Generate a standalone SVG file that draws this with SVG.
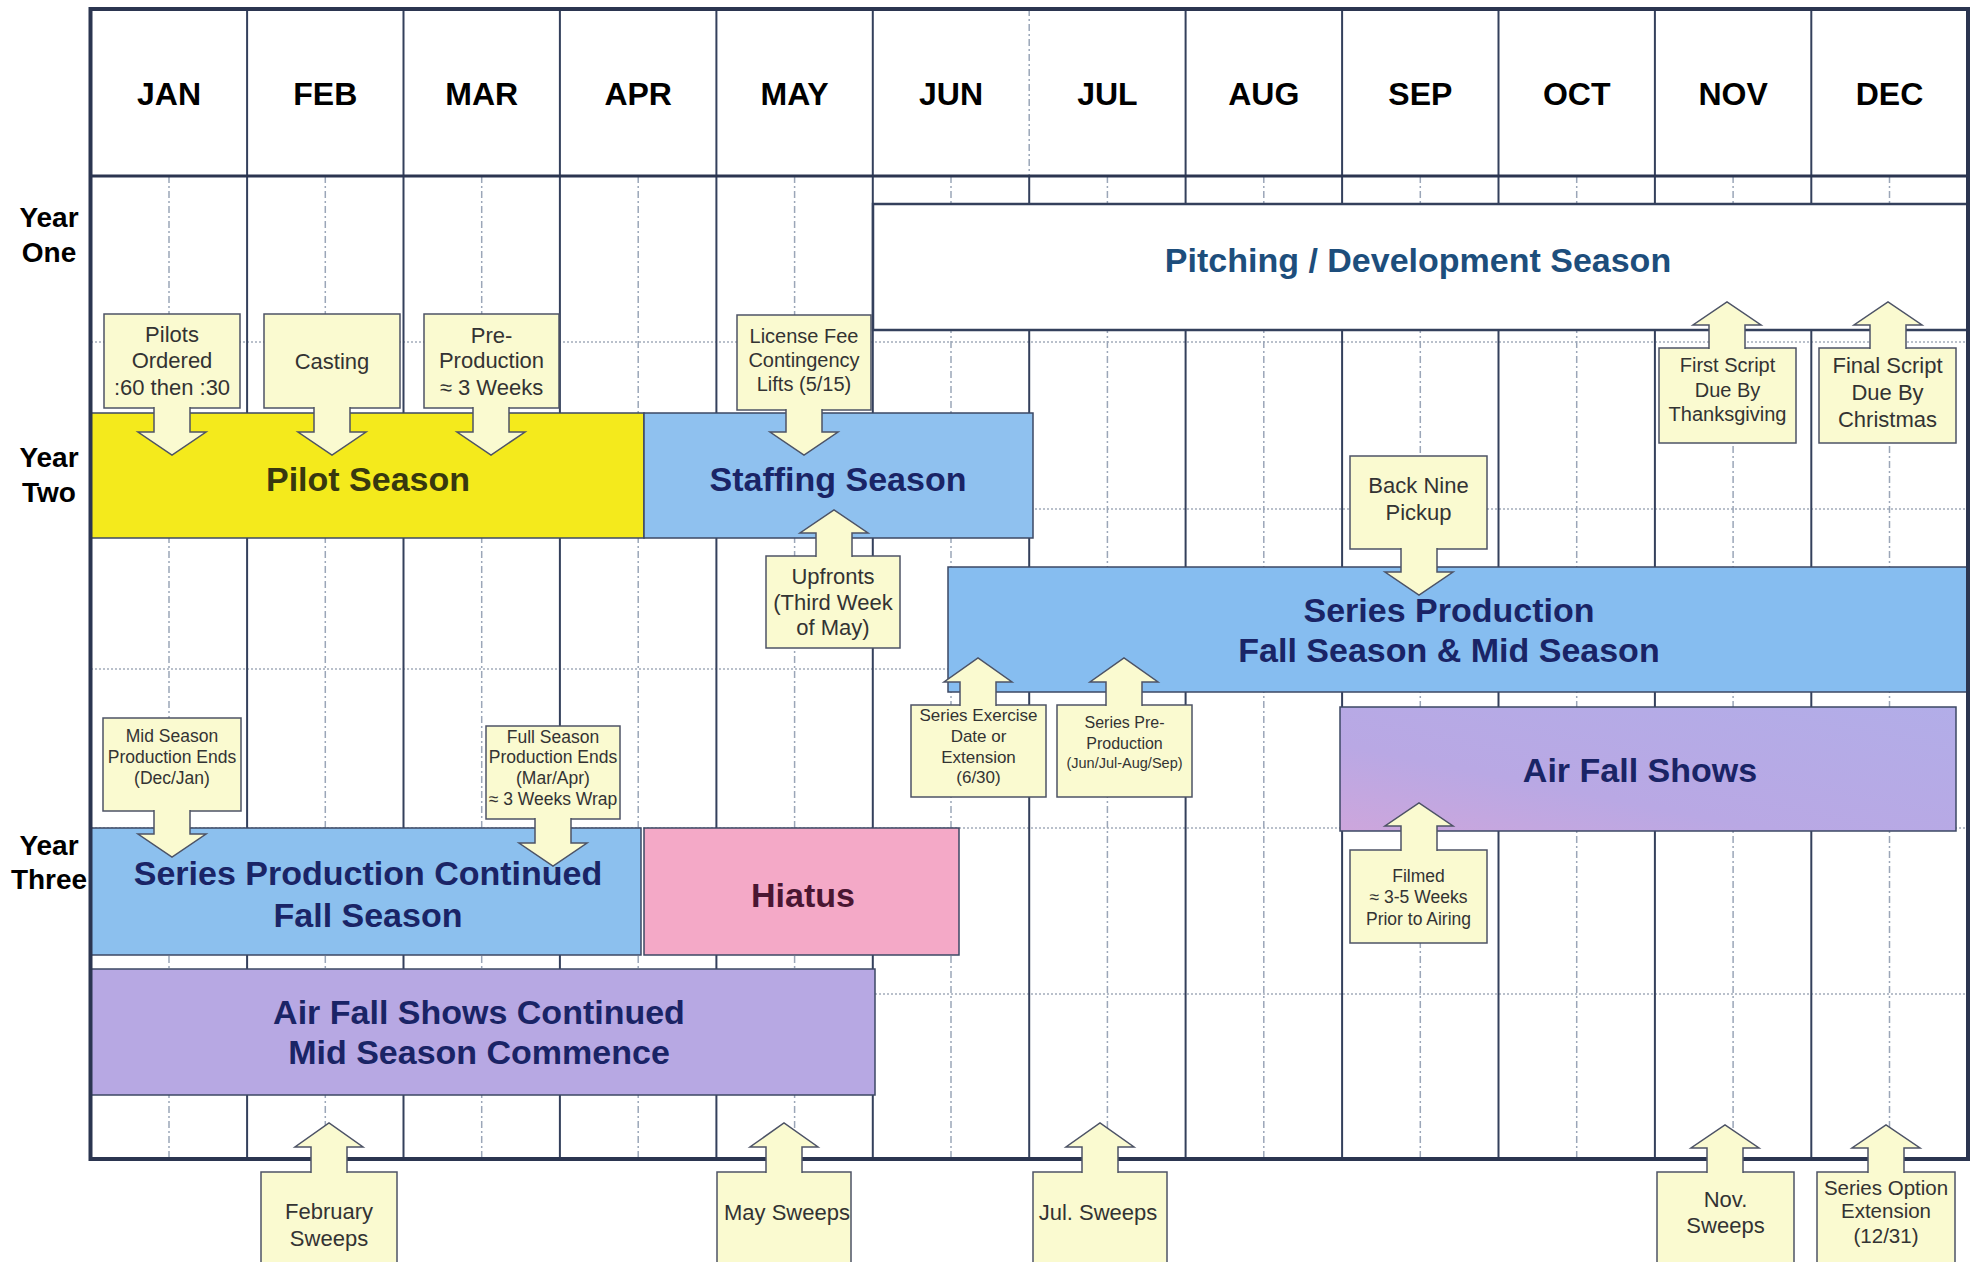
<svg xmlns="http://www.w3.org/2000/svg" width="1976" height="1262" viewBox="0 0 1976 1262">
<defs>
<linearGradient id="airGrad" x1="0" y1="1" x2="1" y2="0">
<stop offset="0" stop-color="#cda6dc"/>
<stop offset="0.35" stop-color="#b9a8e4"/>
<stop offset="1" stop-color="#b2ade8"/>
</linearGradient>
<style>
.month{font-family:"Liberation Sans",Arial,sans-serif;font-weight:bold;font-size:32px;fill:#000;text-anchor:middle}
.year{font-family:"Liberation Sans",Arial,sans-serif;font-weight:bold;font-size:28px;fill:#000;text-anchor:middle}
.bar{stroke:#3d4864;stroke-width:1.5}
.bt{font-family:"Liberation Sans",Arial,sans-serif;font-weight:bold;font-size:34px;text-anchor:middle;fill:#1a2466}
.box{fill:#fafad0;stroke:#4d5366;stroke-width:1.5}
.ct{font-family:"Liberation Sans",Arial,sans-serif;font-size:22px;text-anchor:middle;fill:#333}
.arrow{fill:#fafad0;stroke:#4d5366;stroke-width:1.5}
.solid{stroke:#34405c;stroke-width:2;fill:none}
.half{stroke:#9ba6b8;stroke-width:1.5;stroke-dasharray:7 3 2 3}
.dot{stroke:#a3acbb;stroke-width:1.5;stroke-dasharray:2 2}
</style>
</defs>
<rect x="0" y="0" width="1976" height="1262" fill="#fff"/>

<g id="grid">
<g class="dot">
<line x1="91" y1="342" x2="1968" y2="342"/>
<line x1="91" y1="509" x2="1968" y2="509"/>
<line x1="91" y1="669" x2="1968" y2="669"/>
<line x1="91" y1="828" x2="1968" y2="828"/>
<line x1="91" y1="994" x2="1968" y2="994"/>
</g>
<g class="half">
<line x1="169" y1="176" x2="169" y2="1159"/>
<line x1="325.3" y1="176" x2="325.3" y2="1159"/>
<line x1="481.7" y1="176" x2="481.7" y2="1159"/>
<line x1="638.2" y1="176" x2="638.2" y2="1159"/>
<line x1="794.6" y1="176" x2="794.6" y2="1159"/>
<line x1="951" y1="176" x2="951" y2="1159"/>
<line x1="1107.4" y1="176" x2="1107.4" y2="1159"/>
<line x1="1263.8" y1="176" x2="1263.8" y2="1159"/>
<line x1="1420.3" y1="176" x2="1420.3" y2="1159"/>
<line x1="1576.7" y1="176" x2="1576.7" y2="1159"/>
<line x1="1733.1" y1="176" x2="1733.1" y2="1159"/>
<line x1="1889.5" y1="176" x2="1889.5" y2="1159"/>
<line x1="1029.2" y1="9" x2="1029.2" y2="176"/>
</g>
<g class="solid">
<line x1="247.1" y1="9" x2="247.1" y2="1159"/>
<line x1="403.5" y1="9" x2="403.5" y2="1159"/>
<line x1="559.9" y1="9" x2="559.9" y2="1159"/>
<line x1="716.4" y1="9" x2="716.4" y2="1159"/>
<line x1="872.8" y1="9" x2="872.8" y2="1159"/>
<line x1="1029.2" y1="176" x2="1029.2" y2="1159"/>
<line x1="1185.6" y1="9" x2="1185.6" y2="1159"/>
<line x1="1342.1" y1="9" x2="1342.1" y2="1159"/>
<line x1="1498.5" y1="9" x2="1498.5" y2="1159"/>
<line x1="1654.9" y1="9" x2="1654.9" y2="1159"/>
<line x1="1811.3" y1="9" x2="1811.3" y2="1159"/>
</g>
</g>

<g id="months">
<text class="month" x="169" y="105">JAN</text>
<text class="month" x="325.3" y="105">FEB</text>
<text class="month" x="481.7" y="105">MAR</text>
<text class="month" x="638.2" y="105">APR</text>
<text class="month" x="794.6" y="105">MAY</text>
<text class="month" x="951" y="105">JUN</text>
<text class="month" x="1107.4" y="105">JUL</text>
<text class="month" x="1263.8" y="105">AUG</text>
<text class="month" x="1420.3" y="105">SEP</text>
<text class="month" x="1576.7" y="105">OCT</text>
<text class="month" x="1733.1" y="105">NOV</text>
<text class="month" x="1889.5" y="105">DEC</text>
</g>

<g id="years">
<text class="year" x="49" y="227">Year</text>
<text class="year" x="49" y="262">One</text>
<text class="year" x="49" y="467">Year</text>
<text class="year" x="49" y="502">Two</text>
<text class="year" x="49" y="855">Year</text>
<text class="year" x="49" y="889">Three</text>
</g>

<g id="bar-pitching">
<rect x="873" y="204" width="1095" height="126" fill="#fff" stroke="#34405c" stroke-width="2.5"/>
<text class="bt" x="1418" y="272" style="fill:#1d4e7c">Pitching / Development Season</text>
</g>
<g id="bar-pilot">
<rect class="bar" x="91" y="413" width="553" height="125" fill="#f4ea1c"/>
<text class="bt" x="368" y="491" style="fill:#38380f">Pilot Season</text>
</g>
<g id="bar-staffing">
<rect class="bar" x="644" y="413" width="389" height="125" fill="#8fc1ef"/>
<text class="bt" x="838" y="491">Staffing Season</text>
</g>
<g id="bar-series-production">
<rect class="bar" x="948" y="567" width="1020" height="125" fill="#86bdf0"/>
<text class="bt" x="1449" y="622">Series Production</text>
<text class="bt" x="1449" y="662">Fall Season &amp; Mid Season</text>
</g>
<g id="bar-air-fall">
<rect class="bar" x="1340" y="707" width="616" height="124" fill="url(#airGrad)"/>
<text class="bt" x="1640" y="782">Air Fall Shows</text>
</g>
<g id="bar-series-continued">
<rect class="bar" x="91" y="828" width="550" height="127" fill="#8cc0ee"/>
<text class="bt" x="368" y="885">Series Production Continued</text>
<text class="bt" x="368" y="927">Fall Season</text>
</g>
<g id="bar-hiatus">
<rect class="bar" x="644" y="828" width="315" height="127" fill="#f4a9c7"/>
<text class="bt" x="803" y="907" style="fill:#4a1632">Hiatus</text>
</g>
<g id="bar-air-fall-continued">
<rect class="bar" x="91" y="969" width="784" height="126" fill="#b7a8e3"/>
<text class="bt" x="479" y="1024">Air Fall Shows Continued</text>
<text class="bt" x="479" y="1064">Mid Season Commence</text>
</g>

<rect id="frame" x="90.5" y="9" width="1877.5" height="1150" fill="none" stroke="#2b3550" stroke-width="4"/>
<line x1="90.5" y1="176" x2="1968" y2="176" stroke="#2b3550" stroke-width="3"/>

<g id="callout-pilots">
<rect class="box" x="104" y="314" width="136" height="94"/>
<text class="ct" x="172" y="342">Pilots</text>
<text class="ct" x="172" y="368">Ordered</text>
<text class="ct" x="172" y="395">:60 then :30</text>
</g>
<g id="callout-casting">
<rect class="box" x="264" y="314" width="136" height="94"/>
<text class="ct" x="332" y="369">Casting</text>
</g>
<g id="callout-preproduction">
<rect class="box" x="424" y="314" width="135" height="94"/>
<text class="ct" x="491.5" y="343">Pre-</text>
<text class="ct" x="491.5" y="368">Production</text>
<text class="ct" x="491.5" y="395">≈ 3 Weeks</text>
</g>
<g id="callout-license">
<rect class="box" x="737" y="315" width="134" height="95"/>
<text class="ct" x="804" y="343" style="font-size:20px">License Fee</text>
<text class="ct" x="804" y="367" style="font-size:20px">Contingency</text>
<text class="ct" x="804" y="391" style="font-size:20px">Lifts (5/15)</text>
</g>
<g id="callout-midseason">
<rect class="box" x="103" y="718" width="138" height="93"/>
<text class="ct" x="172" y="742" style="font-size:17.5px">Mid Season</text>
<text class="ct" x="172" y="763" style="font-size:17.5px">Production Ends</text>
<text class="ct" x="172" y="784" style="font-size:17.5px">(Dec/Jan)</text>
</g>
<g id="callout-fullseason">
<rect class="box" x="486" y="726" width="134" height="93"/>
<text class="ct" x="553" y="743" style="font-size:17.5px">Full Season</text>
<text class="ct" x="553" y="763" style="font-size:17.5px">Production Ends</text>
<text class="ct" x="553" y="784" style="font-size:17.5px">(Mar/Apr)</text>
<text class="ct" x="553" y="805" style="font-size:17.5px">≈ 3 Weeks Wrap</text>
</g>
<g id="callout-backnine">
<rect class="box" x="1350" y="456" width="137" height="93"/>
<text class="ct" x="1418.5" y="493">Back Nine</text>
<text class="ct" x="1418.5" y="520">Pickup</text>
</g>
<g id="callout-upfronts">
<rect class="box" x="766" y="556" width="134" height="92"/>
<text class="ct" x="833" y="584">Upfronts</text>
<text class="ct" x="833" y="610">(Third Week</text>
<text class="ct" x="833" y="635">of May)</text>
</g>
<g id="callout-exercise">
<rect class="box" x="911" y="705" width="135" height="92"/>
<text class="ct" x="978.5" y="721" style="font-size:17px">Series Exercise</text>
<text class="ct" x="978.5" y="742" style="font-size:17px">Date or</text>
<text class="ct" x="978.5" y="763" style="font-size:17px">Extension</text>
<text class="ct" x="978.5" y="783" style="font-size:17px">(6/30)</text>
</g>
<g id="callout-series-preproduction">
<rect class="box" x="1057" y="705" width="135" height="92"/>
<text class="ct" x="1124.5" y="728" style="font-size:16px">Series Pre-</text>
<text class="ct" x="1124.5" y="749" style="font-size:16px">Production</text>
<text class="ct" x="1124.5" y="768" style="font-size:14.5px">(Jun/Jul-Aug/Sep)</text>
</g>
<g id="callout-filmed">
<rect class="box" x="1350" y="850" width="137" height="93"/>
<text class="ct" x="1418.5" y="882" style="font-size:17.5px">Filmed</text>
<text class="ct" x="1418.5" y="903" style="font-size:17.5px">≈ 3-5 Weeks</text>
<text class="ct" x="1418.5" y="925" style="font-size:17.5px">Prior to Airing</text>
</g>
<g id="callout-firstscript">
<rect class="box" x="1659" y="348" width="137" height="95"/>
<text class="ct" x="1727.5" y="372" style="font-size:20px">First Script</text>
<text class="ct" x="1727.5" y="397" style="font-size:20px">Due By</text>
<text class="ct" x="1727.5" y="421" style="font-size:20px">Thanksgiving</text>
</g>
<g id="callout-finalscript">
<rect class="box" x="1819" y="348" width="137" height="95"/>
<text class="ct" x="1887.5" y="373">Final Script</text>
<text class="ct" x="1887.5" y="400">Due By</text>
<text class="ct" x="1887.5" y="427">Christmas</text>
</g>
<g id="callout-february">
<rect class="box" x="261" y="1172" width="136" height="110"/>
<text class="ct" x="329" y="1219">February</text>
<text class="ct" x="329" y="1246">Sweeps</text>
</g>
<g id="callout-may">
<rect class="box" x="717" y="1172" width="134" height="110"/>
<text class="ct" x="787" y="1220">May Sweeps</text>
</g>
<g id="callout-july">
<rect class="box" x="1033" y="1172" width="134" height="110"/>
<text class="ct" x="1098" y="1220">Jul. Sweeps</text>
</g>
<g id="callout-november">
<rect class="box" x="1657" y="1172" width="137" height="110"/>
<text class="ct" x="1725.5" y="1207">Nov.</text>
<text class="ct" x="1725.5" y="1233">Sweeps</text>
</g>
<g id="callout-option">
<rect class="box" x="1817" y="1172" width="138" height="110"/>
<text class="ct" x="1886" y="1195" style="font-size:20.5px">Series Option</text>
<text class="ct" x="1886" y="1218" style="font-size:20.5px">Extension</text>
<text class="ct" x="1886" y="1243" style="font-size:20.5px">(12/31)</text>
</g>

<g id="connectors">
<path class="arrow" d="M154 407 V432 H138 L172 455 L206 432 H190 V407"/>
<path class="arrow" d="M314 407 V432 H298 L332 455 L366 432 H350 V407"/>
<path class="arrow" d="M473 407 V432 H457 L491 455 L525 432 H509 V407"/>
<path class="arrow" d="M786 409 V432 H770 L804 455 L838 432 H822 V409"/>
<path class="arrow" d="M154 810 V834 H138 L172 857 L206 834 H190 V810"/>
<path class="arrow" d="M535 818 V843 H519 L553 866 L587 843 H571 V818"/>
<path class="arrow" d="M1401 548 V572 H1385 L1419 595 L1453 572 H1437 V548"/>
<path class="arrow" d="M816 557 V533 H800 L834 510 L868 533 H852 V557"/>
<path class="arrow" d="M960 706 V682 H944 L978 658 L1012 682 H996 V706"/>
<path class="arrow" d="M1106 706 V682 H1090 L1124 658 L1158 682 H1142 V706"/>
<path class="arrow" d="M1401 851 V826 H1385 L1419 803 L1453 826 H1437 V851"/>
<path class="arrow" d="M1709 349 V325 H1693 L1727 302 L1761 325 H1745 V349"/>
<path class="arrow" d="M1870 349 V325 H1854 L1888 302 L1922 325 H1906 V349"/>
<path class="arrow" d="M311 1173 V1147 H295 L329 1123 L363 1147 H347 V1173"/>
<path class="arrow" d="M766 1173 V1147 H750 L784 1123 L818 1147 H802 V1173"/>
<path class="arrow" d="M1082 1173 V1147 H1066 L1100 1123 L1134 1147 H1118 V1173"/>
<path class="arrow" d="M1707 1173 V1148 H1691 L1725 1125 L1759 1148 H1743 V1173"/>
<path class="arrow" d="M1868 1173 V1148 H1852 L1886 1125 L1920 1148 H1904 V1173"/>
</g>
</svg>
